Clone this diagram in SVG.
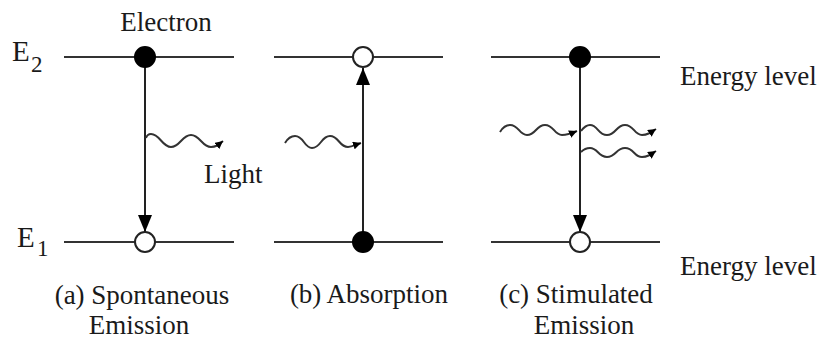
<svg xmlns="http://www.w3.org/2000/svg" width="823" height="340" viewBox="0 0 823 340">
<style>
  text { font-family: "Liberation Serif", "DejaVu Serif", serif; font-size: 27px; fill: #1a1a1a; }
  .big { font-size: 29px; }
  .sub { font-size: 23px; }
  .level { stroke: #333; stroke-width: 2; fill: none; }
  .full { fill: #000; stroke: #000; stroke-width: 2; }
  .empty { fill: #fff; stroke: #222; stroke-width: 2; }
  .trans { stroke: #222; stroke-width: 2; fill: none; marker-end: url(#bigHead); }
  .wave { stroke: #333; stroke-width: 2; fill: none; marker-end: url(#smallHead); }
</style>
<defs>
  <marker id="bigHead" markerUnits="userSpaceOnUse" markerWidth="18" markerHeight="14" refX="17" refY="7" orient="auto" viewBox="0 0 18 14">
    <path d="M0,0 L17,7 L0,14 z" fill="#000"/>
  </marker>
  <marker id="smallHead" markerUnits="userSpaceOnUse" markerWidth="9" markerHeight="8" refX="8" refY="4" orient="auto" viewBox="0 0 9 8">
    <path d="M0,0 L8,4 L0,8 z" fill="#000"/>
  </marker>
</defs>

<g id="axis-labels">
  <text class="big" x="12" y="61">E<tspan class="sub" x="31" y="72">2</tspan></text>
  <text class="big" x="17" y="247">E<tspan class="sub" x="37" y="256">1</tspan></text>
  <text x="680" y="85">Energy level</text>
  <text x="680" y="275">Energy level</text>
</g>

<g id="panel-a">
  <line class="level" x1="64" y1="57" x2="234" y2="57"/>
  <line class="level" x1="64" y1="242" x2="234" y2="242"/>
  <text x="166" y="31" text-anchor="middle">Electron</text>
  <text x="204" y="183">Light</text>
  <text x="142" y="304" text-anchor="middle">(a) Spontaneous</text>
  <text x="139" y="334" text-anchor="middle">Emission</text>
</g>

<g id="panel-b">
  <line class="level" x1="274" y1="57" x2="443" y2="57"/>
  <line class="level" x1="274" y1="242" x2="443" y2="242"/>
  <text x="369" y="303" text-anchor="middle">(b) Absorption</text>
</g>

<g id="panel-c">
  <line class="level" x1="491" y1="57" x2="660" y2="57"/>
  <line class="level" x1="491" y1="242" x2="660" y2="242"/>
  <text x="576" y="303" text-anchor="middle">(c) Stimulated</text>
  <text x="584" y="334" text-anchor="middle">Emission</text>
</g>

<g id="connectors">
  <line class="trans" x1="145" y1="67" x2="145" y2="232"/>
  <line class="trans" x1="363" y1="232" x2="363" y2="68"/>
  <line class="trans" x1="580" y1="67" x2="580" y2="232"/>
  <path class="wave" d="M146,138 C147,135 149,134 151,134 C160,134 162,147 171,147 C180,147 182,135 191,135 C200,135 202,147 211,147 C216,147 218,145 223,141"/>
  <path class="wave" d="M285,143 C288,138 291,136 295,136 C304,136 304,148 312,148 C321,148 321,136 330,136 C339,136 339,147 348,147 C352,147 355,145 361,143"/>
  <path class="wave" d="M500,132 C503,127 506,125 510,125 C519,125 519,135 527,135 C536,135 536,125 545,125 C554,125 554,135 562,135 C567,135 570,134 577,131"/>
  <path class="wave" d="M581,131 C584,127 587,125 590,125 C598,125 598,135 607,135 C616,135 616,125 625,125 C634,125 634,135 642,135 C647,135 650,133 656,129"/>
  <path class="wave" d="M581,152 C584,149 587,148 590,148 C598,148 598,157 607,157 C616,157 616,148 625,148 C634,148 634,157 642,157 C647,157 650,155 656,151"/>
</g>

<g id="electron-a-upper"><circle class="full" cx="145" cy="57" r="10"/></g>
<g id="hole-a-lower"><circle class="empty" cx="145" cy="242" r="10"/></g>
<g id="hole-b-upper"><circle class="empty" cx="363" cy="57" r="10"/></g>
<g id="electron-b-lower"><circle class="full" cx="363" cy="242" r="10"/></g>
<g id="electron-c-upper"><circle class="full" cx="580" cy="57" r="10"/></g>
<g id="hole-c-lower"><circle class="empty" cx="580" cy="242" r="10"/></g>
</svg>
